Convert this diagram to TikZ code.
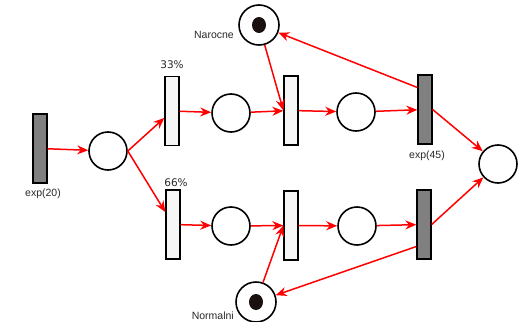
\documentclass[tikz,border=0pt]{standalone}
\usepackage{fontspec}
\setmainfont{Liberation Sans}
\newfontfamily\pctfont{DejaVu Sans}
\definecolor{pnred}{RGB}{255,0,0}
\definecolor{pngray}{RGB}{128,128,128}
\definecolor{pnlight}{RGB}{246,246,246}
\definecolor{pntext}{RGB}{40,40,40}
\definecolor{pntoken}{RGB}{26,16,16}
\usetikzlibrary{arrows.meta,calc}

\begin{document}
\begin{tikzpicture}[
  x=1pt, y=-1pt,
  place/.style={
    circle, minimum size=38pt, inner sep=0pt,
    draw=black, line width=1.6pt, fill=white
  },
  trans/.style={
    rectangle, minimum width=14pt, minimum height=69pt, inner sep=0pt,
    draw=black, line width=1.3pt, fill=pnlight
  },
  timed/.style={trans, fill=pngray},
  lbl/.style={font=\fontsize{10.5}{12}\selectfont, text=pntext, inner sep=0pt},
  pct/.style={font=\pctfont\fontsize{10.5}{12}\selectfont, text=pntext, inner sep=0pt},
  conn/.style={-{Stealth[length=11pt,width=9pt]}, line width=1.5pt, draw=pnred}
]
\useasboundingbox (0,0) rectangle (521,321);

\node[timed] (t0) at (40,148.5) {};
\node[place] (p0) at (108,151)   {};
\node[trans] (t1) at (172,111)   {};
\node[place] (p1) at (231,113)   {};
\node[trans] (t2) at (291,110.5) {};
\node[place] (p2) at (356,112)   {};
\node[timed] (t3) at (425,109.5) {};
\node[place] (pend) at (498,164) {};

\node[trans] (t4) at (173,224.5) {};
\node[place] (p3) at (231,226)   {};
\node[trans] (t5) at (291,225.5) {};
\node[place] (p4) at (357,226)   {};
\node[timed] (t6) at (424,224.5) {};

\node[place, minimum size=40pt] (nar) at (259,25)  {};
\node[place, minimum size=40pt] (nor) at (256,302) {};
\fill[pntoken] (nar.center) ellipse (7 and 8);
\fill[pntoken] (nor.center) ellipse (7 and 8);

\node[lbl] at (43,194)  {exp(20)};
\node[lbl] at (427,156) {exp(45)};
\node[pct] at (172,65)  {33\%};
\node[pct] at (176,183) {66\%};
\node[lbl, anchor=east] at (234,35)  {Narocne};
\node[lbl, anchor=east] at (234,316) {Normalni};

\draw[conn] (t0) -- (p0);
\draw[conn] (p0.east) -- (t1);
\draw[conn] (p0.east) -- (t4);

\draw[conn] (t1) -- (p1);
\draw[conn] (p1) -- (t2);
\draw[conn] (t2) -- (p2);
\draw[conn] (p2) -- (t3);

\draw[conn] (t4) -- (p3);
\draw[conn] (p3) -- (t5);
\draw[conn] (t5) -- (p4);
\draw[conn] (p4) -- (t6);

\draw[conn] (nar) -- (t2.west);
\draw[conn] (nor) -- (t5.west);
\draw[conn] ([yshift=22pt]t3.west) -- (nar);
\draw[conn] ([yshift=-22pt]t6.west) -- (nor);

\draw[conn] (t3.east) -- (pend);
\draw[conn] (t6.east) -- (pend);
\end{tikzpicture}
\end{document}
